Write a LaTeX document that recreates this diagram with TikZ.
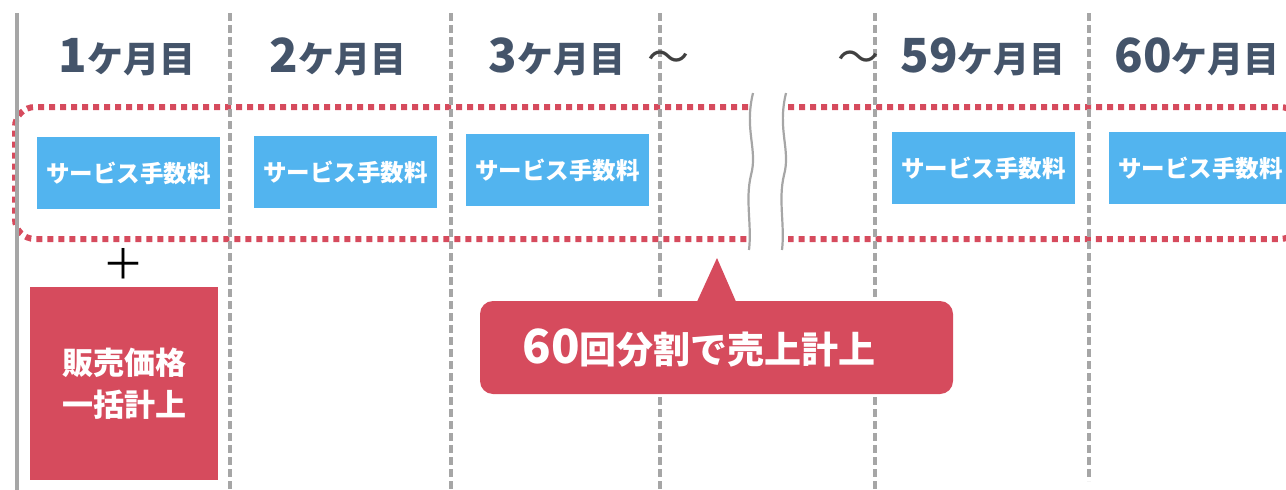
\documentclass[tikz,border=0pt]{standalone}
\usepackage{fontspec}
\newfontfamily\jp{Noto Sans CJK JP}
\definecolor{cred}{HTML}{D64B5D}
\definecolor{cblue}{HTML}{52B4EF}
\definecolor{cnavy}{HTML}{44546A}
\definecolor{cdark}{HTML}{404040}
\definecolor{cgray}{HTML}{A6A6A6}
\tikzset{
  head/.style={anchor=base, text=cnavy, font=\jp\bfseries, inner sep=0pt},
  tilde/.style={anchor=base, text=cdark, font=\jp\fontsize{42}{42}\selectfont, inner sep=0pt},
  fee/.style={fill=cblue, text=white, minimum width=183pt, minimum height=72pt, inner sep=0pt,
    font=\jp\bfseries\fontsize{23.5}{23.5}\selectfont},
  vdash/.style={draw=cgray, line width=3.2pt, dash pattern=on 8pt off 4pt},
  reddot/.style={draw=cred, line width=6pt, dash pattern=on 6pt off 5pt, rounded corners=20pt},
  wave/.style={draw=cgray, line width=2.2pt},
}
\newcommand{\hd}[2]{{\fontsize{47}{47}\selectfont #1}{\fontsize{36}{36}\selectfont #2}}
\begin{document}
\begin{tikzpicture}[x=1pt,y=-1pt]
\path[use as bounding box, clip] (0,0) rectangle (1286,490);
% red dotted frame
\draw[reddot] (748,107) -- (15,107) -- (15,239) -- (748,239);
\draw[reddot] (788,107) -- (1300,107) -- (1300,239) -- (788,239);
% break marks
\draw[wave] (753,93) .. controls (744,130) and (758,150) .. (751,175) .. controls (745,200) and (752,225) .. (749,250);
\draw[wave] (786,93) .. controls (777,130) and (791,150) .. (784,175) .. controls (778,200) and (785,225) .. (782,250);
% vertical lines
\coordinate (l0t) at (17,13); \coordinate (l0b) at (17,490);
\draw[cgray, line width=3.2pt] (l0t) -- (l0b);
\foreach \x/\e in {230/490,451/490,660/490,875/490,1089/481}{
  \coordinate (vt\x) at (\x,13); \coordinate (vb\x) at (\x,\e);
  \draw[vdash] (vt\x) -- (vb\x);
}
% headers
\node[head] (h1) at (127,72) {\hd{1}{ケ月目}};
\node[head] (h2) at (338,72) {\hd{2}{ケ月目}};
\node[head] (h3) at (557,72) {\hd{3}{ケ月目}};
\node[tilde] (t1) at (668,72) {〜};
\node[tilde] (t2) at (858,72) {〜};
\node[head] (h59) at (983,72) {\hd{59}{ケ月目}};
\node[head] (h60) at (1197,72) {\hd{60}{ケ月目}};
% fee boxes
\node[fee] (f1) at (128.5,173) {サービス手数料};
\node[fee] (f2) at (345.5,172) {サービス手数料};
\node[fee] (f3) at (557.5,170) {サービス手数料};
\node[fee] (f59) at (983.5,168) {サービス手数料};
\node[fee] (f60) at (1200.5,168) {サービス手数料};
% plus
\node[inner sep=0pt, font=\jp\fontsize{42}{42}\selectfont] (plus) at (123,264) {＋};
% sale box
\node[fill=cred, text=white, minimum width=188pt, minimum height=193pt, inner sep=0pt,
  align=center, font=\jp\bfseries\fontsize{31}{42}\selectfont] (sale) at (124,383.5) {販売価格\\一括計上};
% callout
\node[fill=cred, rounded corners=13pt, minimum width=473pt, minimum height=93pt, inner sep=0pt] (call) at (716.5,347.5) {};
\coordinate (tip) at (717,258);
\fill[cred] ([xshift=-20pt,yshift=-2pt]call.north) -- (tip) -- ([xshift=20pt,yshift=-2pt]call.north) -- cycle;
\node[anchor=base, text=white, inner sep=0pt, font=\jp\bfseries] (ctext) at (699,363)
  {{\fontsize{47}{47}\selectfont 60}{\fontsize{37}{37}\selectfont 回分割で売上計上}};
\end{tikzpicture}
\end{document}
